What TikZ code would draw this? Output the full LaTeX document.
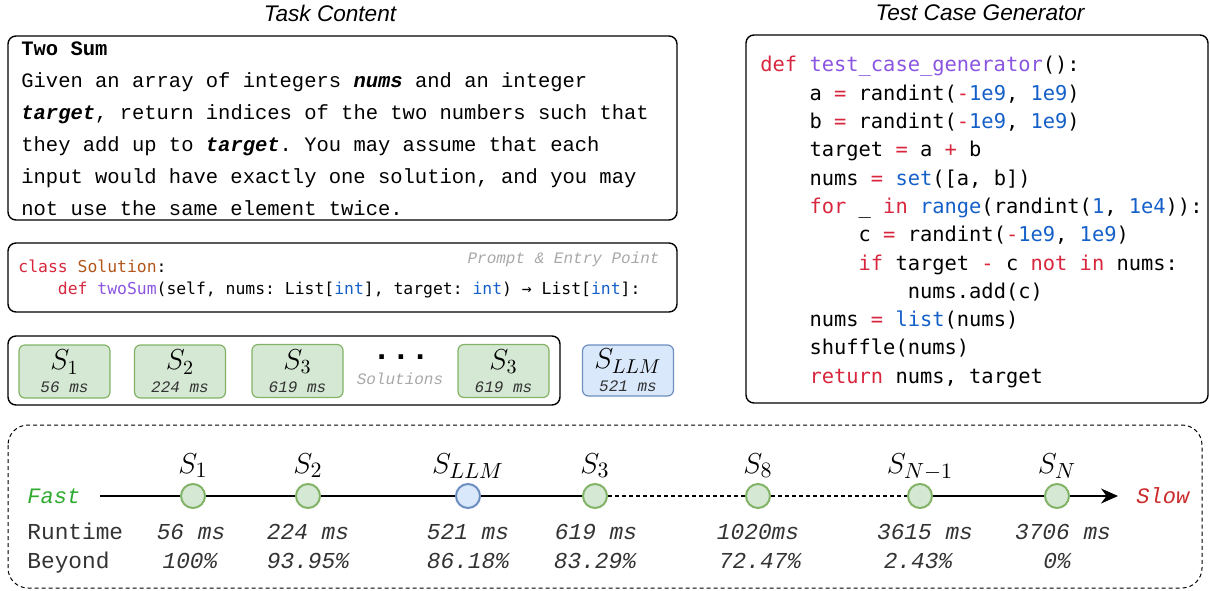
\documentclass[tikz,border=0pt]{standalone}
\usepackage{fontspec}
\setmainfont{Liberation Sans}
\setmonofont{Liberation Mono}
\newfontfamily\codefont{DejaVu Sans Mono}
\usetikzlibrary{positioning,arrows.meta}

\definecolor{solfill}{HTML}{D5E8D4}
\definecolor{soldraw}{HTML}{82B366}
\definecolor{llmfill}{HTML}{DAE8FC}
\definecolor{llmdraw}{HTML}{6C8EBF}
\definecolor{kwred}{HTML}{D7263D}
\definecolor{fnpurple}{HTML}{8A55E0}
\definecolor{numblue}{HTML}{1460C8}
\definecolor{clsbrown}{HTML}{B3561B}
\definecolor{fastgreen}{HTML}{2EAA2E}
\definecolor{slowred}{HTML}{CC2B2B}
\definecolor{msgray}{HTML}{333333}
\definecolor{notegray}{HTML}{A8A8A8}

\newcommand\kw[1]{\textcolor{kwred}{#1}}
\newcommand\fn[1]{\textcolor{fnpurple}{#1}}
\newcommand\nm[1]{\textcolor{numblue}{#1}}
\newcommand\cls[1]{\textcolor{clsbrown}{#1}}
\newcommand\bi[1]{\textbf{\textit{#1}}}
\newcommand\codeind{\phantom{xxxx}}
\newcommand\msfont{\ttfamily\itshape\fontsize{8}{8}\selectfont\color{msgray}}

\begin{document}
\frenchspacing
\begin{tikzpicture}[x=0.5pt, y=-0.5pt,
    box/.style={draw, line width=0.7pt, rounded corners=4pt},
    title/.style={font=\itshape\fontsize{11.3}{13}\selectfont},
    soln/.style={draw=soldraw, fill=solfill, line width=0.6pt, rounded corners=3pt,
      minimum width=45.5pt, minimum height=26.5pt, align=center, inner sep=0pt,
      font=\fontsize{14}{11.5}\selectfont},
    llm/.style={soln, draw=llmdraw, fill=llmfill, minimum height=25.5pt},
    ms/.style={font=\ttfamily\itshape\fontsize{8}{8}\selectfont, text=msgray},
    pt/.style={circle, draw=soldraw, fill=solfill, line width=1pt, minimum size=12pt, inner sep=0pt},
    ptllm/.style={pt, draw=llmdraw, fill=llmfill},
    tlbl/.style={anchor=base, font=\fontsize{15}{15}\selectfont},
    val/.style={anchor=base, font=\ttfamily\itshape\fontsize{11.4}{11.4}\selectfont, text=msgray},
    tline/.style={line width=0.6pt}]
  \useasboundingbox (0,0) rectangle (1210,590);

  % titles
  \node[title] (tasktitle) at (330,13) {Task Content};
  \node[title] (gentitle) at (980,13) {Test Case Generator};

  % task description
  \draw[box] (8,36) rectangle (677,220);
  \node[anchor=north west, inner sep=0pt, align=left,
    font=\ttfamily\fontsize{10.25}{16}\selectfont] (problem) at (21,41)
    {\textbf{Two Sum}\\
     Given an array of integers \bi{nums} and an integer\\
     \bi{target}, return indices of the two numbers such that\\
     they add up to \bi{target}. You may assume that each\\
     input would have exactly one solution, and you may\\
     not use the same element twice.};

  % entry point
  \draw[box] (8,243) rectangle (677,312);
  \node[anchor=east, inner sep=0pt, text=notegray,
    font=\ttfamily\itshape\fontsize{8}{8}\selectfont] (promptnote) at (660,259)
    {Prompt \& Entry Point};
  \node[anchor=north west, inner sep=0pt, align=left,
    font=\codefont\fontsize{8.2}{11}\selectfont] (entry) at (18,260)
    {\kw{class} \cls{Solution}:\\
     \codeind\kw{def} \fn{twoSum}(self, nums: List[\nm{int}], target: \nm{int}) → List[\nm{int}]:};

  % solutions
  \draw[box] (8,336) rectangle (560,405);
  \node[soln] (sol1) at (64.5,371.5) {$S_1$\\{\msfont 56 ms}};
  \node[soln] (sol2) at (180,371.5) {$S_2$\\{\msfont 224 ms}};
  \node[soln] (sol3) at (297.5,371) {$S_3$\\{\msfont 619 ms}};
  \node[soln] (solk) at (503.5,371) {$S_3$\\{\msfont 619 ms}};
  \node[font=\ttfamily\bfseries\fontsize{16}{16}\selectfont] (dots) at (401,357) {...};
  \node[ms, text=notegray] (solnote) at (400,379) {Solutions};
  \node[llm] (solllm) at (628,370.5) {$S_{LLM}$\\{\msfont 521 ms}};

  % generator
  \draw[box] (746,35) rectangle (1208,403);
  \node[anchor=north west, inner sep=0pt, align=left,
    font=\codefont\fontsize{10.2}{14.15}\selectfont] (gen) at (760,56)
    {\kw{def} \fn{test\_case\_generator}():\\
     \codeind a \kw{=} randint(\kw{-}\nm{1e9}, \nm{1e9})\\
     \codeind b \kw{=} randint(\kw{-}\nm{1e9}, \nm{1e9})\\
     \codeind target \kw{=} a \kw{+} b\\
     \codeind nums \kw{=} \nm{set}([a, b])\\
     \codeind\kw{for} \_ \kw{in} \nm{range}(randint(\nm{1}, \nm{1e4})):\\
     \codeind\codeind c \kw{=} randint(\kw{-}\nm{1e9}, \nm{1e9})\\
     \codeind\codeind\kw{if} target \kw{-} c \kw{not} \kw{in} nums:\\
     \codeind\codeind\codeind nums.add(c)\\
     \codeind nums \kw{=} \nm{list}(nums)\\
     \codeind shuffle(nums)\\
     \codeind\kw{return} nums, target};

  % runtime ranking
  \draw[dash pattern=on 2pt off 1.5pt, line width=0.5pt, rounded corners=10pt] (8,425) rectangle (1202,588);
  \node[anchor=base west, inner sep=0pt, text=fastgreen,
    font=\ttfamily\itshape\fontsize{11}{11}\selectfont] (fast) at (27,503) {Fast};
  \node[anchor=base west, inner sep=0pt, text=slowred,
    font=\ttfamily\itshape\fontsize{11}{11}\selectfont] (slow) at (1136,503) {Slow};
  \coordinate (tstart) at (100,496);
  \coordinate (tend) at (1118,496);

  \node[pt] (s1) at (193,496) {};
  \node[pt] (s2) at (308,496) {};
  \node[ptllm] (sllm) at (468,496) {};
  \node[pt] (s3) at (595,496) {};
  \node[pt] (s8) at (758,496) {};
  \node[pt] (sn1) at (920,496) {};
  \node[pt] (sn) at (1057,496) {};

  \draw[tline] (tstart) -- (s1) -- (s2) -- (sllm) -- (s3);
  \draw[tline, dash pattern=on 2pt off 1.5pt] (s3) -- (s8) -- (sn1);
  \draw[tline, -{Stealth[length=8.5pt, width=7.5pt]}] (sn1) -- (sn) -- (tend);

  \node[tlbl] (l1) at (193,473) {$S_1$};
  \node[tlbl] (l2) at (308,473) {$S_2$};
  \node[tlbl] (lllm) at (468,473) {$S_{LLM}$};
  \node[tlbl] (l3) at (595,473) {$S_3$};
  \node[tlbl] (l8) at (758,473) {$S_8$};
  \node[tlbl] (ln1) at (920,473) {$S_{N-1}$};
  \node[tlbl] (ln) at (1057,473) {$S_N$};

  \node[anchor=base west, inner sep=0pt, text=msgray,
    font=\ttfamily\fontsize{11.4}{11.4}\selectfont] (runtime) at (27,539) {Runtime};
  \node[anchor=base west, inner sep=0pt, text=msgray,
    font=\ttfamily\fontsize{11.4}{11.4}\selectfont] (beyond) at (27,568) {Beyond};

  \node[val] (r1) at (191,539) {56 ms};
  \node[val] (r2) at (308,539) {224 ms};
  \node[val] (rllm) at (468,539) {521 ms};
  \node[val] (r3) at (596,539) {619 ms};
  \node[val] (r8) at (758,539) {1020ms};
  \node[val] (rn1) at (925,539) {3615 ms};
  \node[val] (rn) at (1063,539) {3706 ms};

  \node[val] (b1) at (190,568) {100\%};
  \node[val] (b2) at (308,568) {93.95\%};
  \node[val] (bllm) at (468,568) {86.18\%};
  \node[val] (b3) at (595,568) {83.29\%};
  \node[val] (b8) at (760,568) {72.47\%};
  \node[val] (bn1) at (918,568) {2.43\%};
  \node[val] (bn) at (1057,568) {0\%};
\end{tikzpicture}
\end{document}
